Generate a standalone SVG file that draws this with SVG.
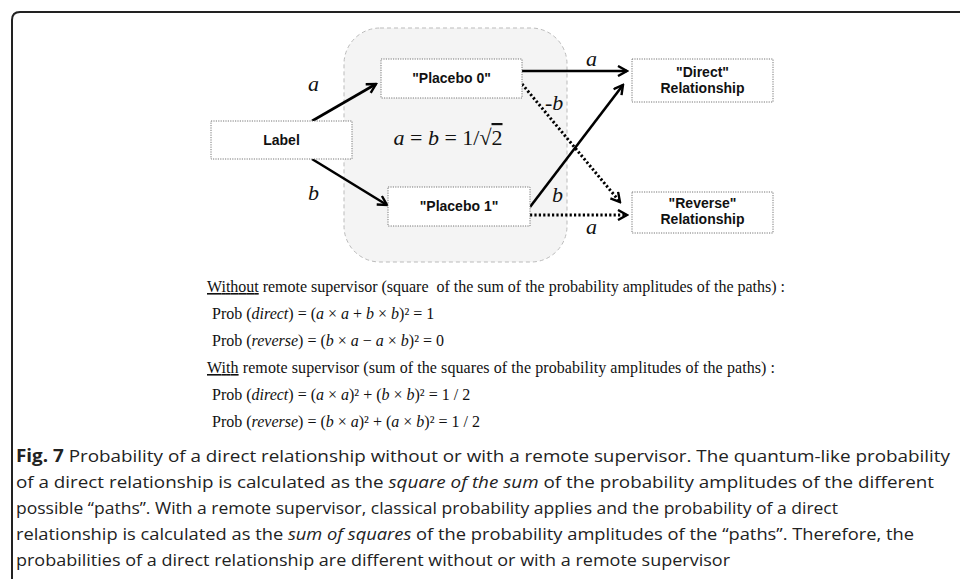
<svg xmlns="http://www.w3.org/2000/svg" width="960" height="579" viewBox="0 0 960 579">
<defs>
<style>
.node{fill:#fff;stroke:#777;stroke-width:1;stroke-dasharray:1.2 1.2}
.nt{font-family:"Liberation Sans",Arial,sans-serif;font-weight:bold;font-size:14px;fill:#111;text-anchor:middle}
.el{font-family:"Liberation Serif","Times New Roman",serif;font-style:italic;font-size:22px;fill:#111}
.solid{stroke:#000;stroke-width:2.6;fill:none}
.dot{stroke:#000;stroke-width:3;fill:none;stroke-dasharray:2.2 2.2}
.f{font-family:"Liberation Serif","Times New Roman",serif;font-size:16px;fill:#111}
.i{font-style:italic}
.cap{font-family:"Open Sans","Noto Sans",sans-serif;font-size:17px;fill:#222}
</style>
<marker id="ah" viewBox="0 0 12 12" refX="10" refY="6" markerWidth="12" markerHeight="12" markerUnits="userSpaceOnUse" orient="auto">
<path d="M1,1 L10,6 L1,11" fill="none" stroke="#000" stroke-width="2.4"/>
</marker>
</defs>
<rect width="960" height="579" fill="#fff"/>
<path d="M12,579 V20 Q12,12 20,12 H960" fill="none" stroke="#222" stroke-width="2"/>

<g id="group-region">
<rect x="344" y="28" width="223" height="234" rx="36" ry="36" fill="#f4f4f4" stroke="#bbb" stroke-width="1" stroke-dasharray="4 3"/>
<text x="448" y="145" class="el" font-size="20" text-anchor="middle"><tspan>a</tspan><tspan font-style="normal"> = </tspan><tspan>b</tspan><tspan font-style="normal"> = 1/√</tspan><tspan font-style="normal" text-decoration="overline">2</tspan></text>
</g>

<g id="connectors">
<line class="solid" x1="312" y1="121" x2="376" y2="84" marker-end="url(#ah)"/>
<line class="solid" x1="312" y1="159" x2="387" y2="205" marker-end="url(#ah)"/>
<line class="solid" x1="522" y1="71" x2="627" y2="71" marker-end="url(#ah)"/>
<line class="solid" x1="530" y1="207" x2="623" y2="85" marker-end="url(#ah)"/>
<line class="dot" x1="522" y1="84" x2="620" y2="202" marker-end="url(#ah)"/>
<line class="dot" x1="530" y1="215" x2="627" y2="215" marker-end="url(#ah)"/>
<text class="el" x="308" y="91">a</text>
<text class="el" x="308" y="200">b</text>
<text class="el" x="586" y="66">a</text>
<text class="el" x="545" y="110">-b</text>
<text class="el" x="552" y="202">b</text>
<text class="el" x="586" y="234">a</text>
</g>

<g id="node-label">
<rect class="node" x="211" y="121" width="141" height="38"/>
<text class="nt" x="281.5" y="145">Label</text>
</g>
<g id="node-placebo0">
<rect class="node" x="381" y="59" width="141" height="39"/>
<text class="nt" x="451.5" y="83">"Placebo 0"</text>
</g>
<g id="node-placebo1">
<rect class="node" x="388" y="187" width="142" height="39"/>
<text class="nt" x="459" y="211">"Placebo 1"</text>
</g>
<g id="node-direct">
<rect class="node" x="632" y="59" width="141" height="43"/>
<text class="nt" x="702.5" y="77">"Direct"</text>
<text class="nt" x="702.5" y="93">Relationship</text>
</g>
<g id="node-reverse">
<rect class="node" x="632" y="192" width="141" height="41"/>
<text class="nt" x="702.5" y="208">"Reverse"</text>
<text class="nt" x="702.5" y="224">Relationship</text>
</g>

<g id="formulas">
<text class="f" x="207" y="292" xml:space="preserve" textLength="578" lengthAdjust="spacing"><tspan text-decoration="underline">Without</tspan> remote supervisor (square  of the sum of the probability amplitudes of the paths) :</text>
<text class="f" x="212" y="319">Prob (<tspan class="i">direct</tspan>) = (<tspan class="i">a</tspan> × <tspan class="i">a</tspan> + <tspan class="i">b</tspan> × <tspan class="i">b</tspan>)² = 1</text>
<text class="f" x="212" y="346">Prob (<tspan class="i">reverse</tspan>) = (<tspan class="i">b</tspan> × <tspan class="i">a</tspan> − <tspan class="i">a</tspan> × <tspan class="i">b</tspan>)² = 0</text>
<text class="f" x="207" y="373" textLength="568" lengthAdjust="spacing"><tspan text-decoration="underline">With</tspan> remote supervisor (sum of the squares of the probability amplitudes of the paths) :</text>
<text class="f" x="212" y="400">Prob (<tspan class="i">direct</tspan>) = (<tspan class="i">a</tspan> × <tspan class="i">a</tspan>)² + (<tspan class="i">b</tspan> × <tspan class="i">b</tspan>)² = 1 / 2</text>
<text class="f" x="212" y="427">Prob (<tspan class="i">reverse</tspan>) = (<tspan class="i">b</tspan> × <tspan class="i">a</tspan>)² + (<tspan class="i">a</tspan> × <tspan class="i">b</tspan>)² = 1 / 2</text>
</g>

<g id="caption">
<text class="cap" x="16" y="462" textLength="934" lengthAdjust="spacingAndGlyphs"><tspan font-weight="bold">Fig. 7</tspan> Probability of a direct relationship without or with a remote supervisor. The quantum-like probability</text>
<text class="cap" x="16" y="488" textLength="918" lengthAdjust="spacingAndGlyphs">of a direct relationship is calculated as the <tspan font-style="italic">square of the sum</tspan> of the probability amplitudes of the different</text>
<text class="cap" x="16" y="514" textLength="822" lengthAdjust="spacingAndGlyphs">possible “paths”. With a remote supervisor, classical probability applies and the probability of a direct</text>
<text class="cap" x="16" y="540" textLength="898" lengthAdjust="spacingAndGlyphs">relationship is calculated as the <tspan font-style="italic">sum of squares</tspan> of the probability amplitudes of the “paths”. Therefore, the</text>
<text class="cap" x="16" y="566" textLength="714" lengthAdjust="spacingAndGlyphs">probabilities of a direct relationship are different without or with a remote supervisor</text>
</g>
</svg>
